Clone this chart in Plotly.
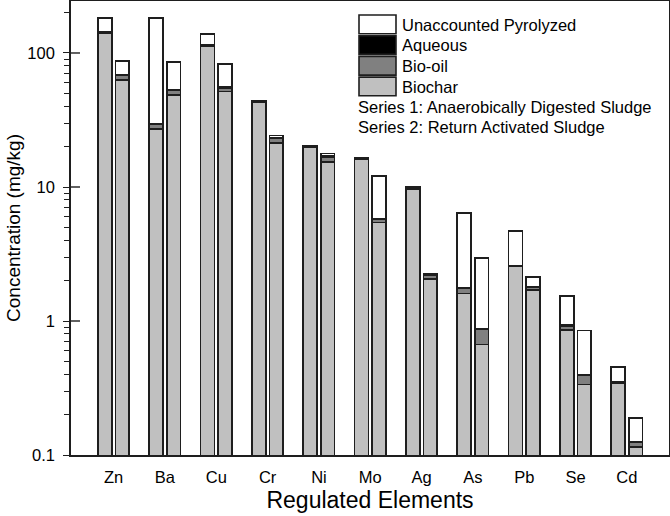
import numpy as np
import plotly.graph_objects as go

elements = ["Zn", "Ba", "Cu", "Cr", "Ni", "Mo", "Ag", "As", "Pb", "Se", "Cd"]

# Series 1: Anaerobically Digested Sludge (mg/kg)
s1_biochar = [141, 27.0, 112, 43.0, 19.8, 16.0, 9.70, 1.60, 2.55, 0.86, 0.345]
s1_biooil = [2.5, 2.4, 1.2, 0.6, 0.3, 0.25, 0.15, 0.15, 0.02, 0.06, 0.003]
s1_aqueous = [1.5, 0.4, 1.0, 0.6, 0.3, 0.25, 0.15, 0.03, 0.03, 0.01, 0.006]
s1_unacc = [38.0, 153.0, 24.0, 0.0, 0.0, 0.0, 0.0, 4.60, 2.09, 0.60, 0.10]

# Series 2: Return Activated Sludge (mg/kg)
s2_biochar = [63.0, 48.5, 51.5, 21.2, 15.3, 5.45, 2.05, 0.67, 1.70, 0.335, 0.115]
s2_biooil = [5.0, 4.3, 3.5, 1.9, 1.4, 0.30, 0.15, 0.20, 0.08, 0.06, 0.009]
s2_aqueous = [0.8, 0.5, 0.5, 0.3, 0.3, 0.05, 0.04, 0.012, 0.02, 0.005, 0.002]
s2_unacc = [18.0, 32.0, 27.0, 0.9, 0.8, 6.3, 0.0, 2.06, 0.34, 0.45, 0.062]

components = ["Biochar", "Bio-oil", "Aqueous", "Unaccounted Pyrolyzed"]
colors = ["#c0c0c0", "#808080", "#000000", "#ffffff"]
series_data = [
    [s1_biochar, s1_biooil, s1_aqueous, s1_unacc],
    [s2_biochar, s2_biooil, s2_aqueous, s2_unacc],
]
offsets = [-0.17, 0.17]

y_major = [0.1, 1, 10, 100]
y_minor = [m * 10.0 ** e for e in range(-1, 3) for m in range(2, 10) if m * 10.0 ** e < 250]

idx = np.arange(len(elements))
fig = go.Figure()
for s, comps in enumerate(series_data):
    for name, vals, col in zip(components, comps, colors):
        fig.add_trace(go.Bar(
            x=idx + offsets[s], y=vals, width=0.27, name=name,
            marker=dict(color=col, line=dict(color="#1e1e1e", width=1.6)),
            showlegend=False,
        ))

fig.update_layout(
    barmode="stack",
    width=670, height=516,
    margin=dict(l=71, r=1, t=1, b=61),
    paper_bgcolor="white", plot_bgcolor="white",
    font=dict(family="Liberation Sans, Arial, sans-serif", size=16.5, color="black"),
)
fig.update_xaxes(
    automargin=False,
    range=[-0.83, 10.82], tickmode="array", tickvals=idx, ticktext=elements,
    ticks="", ticklabelstandoff=6,
    showline=True, linecolor="#1e1e1e", linewidth=1.6, mirror=True,
    showgrid=False, zeroline=False,
    title=dict(text="Regulated Elements", font=dict(size=23), standoff=7),
)
fig.update_yaxes(
    automargin=False,
    type="log", range=[-1, 2.388], tickmode="array", tickvals=y_major,
    ticktext=["0.1", "1", "10", "100"],
    ticks="outside", ticklen=6, tickwidth=1.4, tickcolor="#1e1e1e", ticklabelstandoff=5,
    minor=dict(tickvals=y_minor, ticks="outside", ticklen=5, tickwidth=1.2, tickcolor="#1e1e1e"),
    showline=True, linecolor="#1e1e1e", linewidth=1.6, mirror=True,
    showgrid=False, zeroline=False,
    title=dict(text="Concentration (mg/kg)", font=dict(size=19), standoff=2),
)

# inner part of major ticks
for v in y_major[1:]:
    fig.add_shape(type="line", xref="paper", xsizemode="pixel", xanchor=0, x0=0, x1=9,
                  yref="y", y0=v, y1=v, line=dict(color="#1e1e1e", width=1.4))

# custom legend (boxes + text), top right
W, H = 598.0, 454.0
legend_order = list(zip(components, colors))[::-1]
box_x0, box_x1 = 359 - 71, 396 - 71
for k, (name, col) in enumerate(legend_order):
    top = 15 + k * 20.7 - 1
    bot = top + 18.7
    fig.add_shape(type="rect", xref="paper", yref="paper",
                  x0=box_x0 / W, x1=box_x1 / W, y0=(454 - bot) / H, y1=(454 - top) / H,
                  fillcolor=col, line=dict(color="#1e1e1e", width=1.6))
    fig.add_annotation(xref="paper", yref="paper", x=(400 - 71) / W, y=(454 - (top + 9.5)) / H,
                       text=name, showarrow=False, xanchor="left", yanchor="middle",
                       font=dict(size=16.5))
for k, txt in enumerate(["Series 1: Anaerobically Digested Sludge",
                         "Series 2: Return Activated Sludge"]):
    cy = 107 + k * 20.3 - 1
    fig.add_annotation(xref="paper", yref="paper", x=(356 - 71) / W, y=(454 - cy) / H,
                       text=txt, showarrow=False, xanchor="left", yanchor="middle",
                       font=dict(size=16.5))

fig.write_html("out.html", config={"displayModeBar": False},
               post_script="document.body.style.margin='0px';")
